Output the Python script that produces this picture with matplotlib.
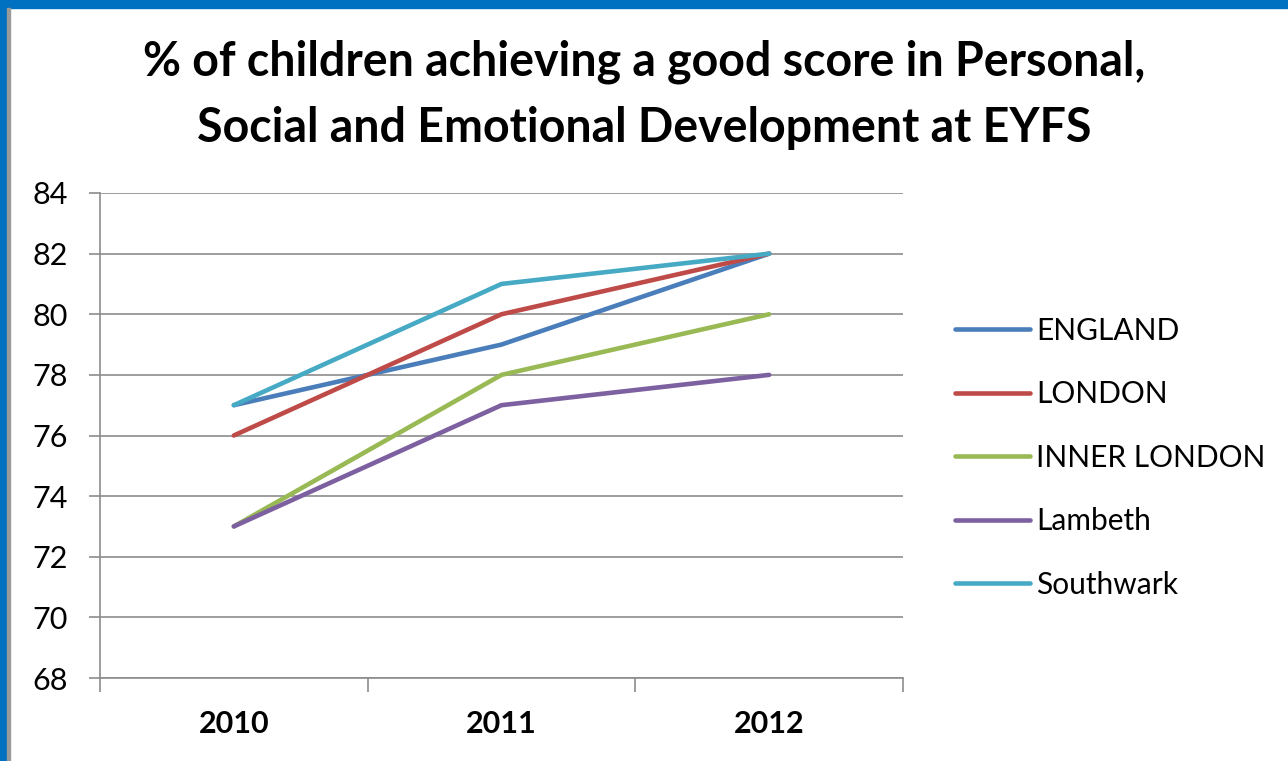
import numpy as np
import matplotlib.pyplot as plt
from matplotlib.patches import Rectangle

plt.rcParams['font.family'] = ['Lato', 'DejaVu Sans']

years = ['2010', '2011', '2012']
england = [77, 79, 82]
london = [76, 80, 82]
inner_london = [73, 78, 80]
lambeth = [73, 77, 78]
southwark = [77, 81, 82]

series = [
    ('ENGLAND', england, '#4A7EBB'),
    ('LONDON', london, '#BE4B48'),
    ('INNER LONDON', inner_london, '#98B954'),
    ('Lambeth', lambeth, '#7D60A0'),
    ('Southwark', southwark, '#46AAC5'),
]

fig = plt.figure(figsize=(12.88, 7.61), dpi=100)
ax = fig.add_axes([100 / 1288, 1 - 678 / 761, 803 / 1288, 485 / 761])

x = np.arange(len(years))
for name, vals, col in series:
    ax.plot(x, vals, color=col, lw=3.3, label=name, solid_capstyle='round')

ax.set_xlim(-0.5, 2.5)
ax.set_ylim(68, 84)
ax.set_yticks(range(68, 85, 2))
ax.yaxis.grid(True, color='#8c8c8c', lw=1.2)
ax.set_axisbelow(True)

ax.set_xticks(x)
ax.set_xticklabels(years, fontsize=22, fontweight='bold')
ax.set_xticks([-0.5, 0.5, 1.5, 2.5], minor=True)
ax.tick_params(axis='x', which='major', length=0, pad=23)
ax.tick_params(axis='x', which='minor', length=10, color='#8c8c8c', width=1.2)
ax.tick_params(axis='y', length=8, color='#8c8c8c', width=1.2, labelsize=22, pad=15)

for s in ['top', 'right']:
    ax.spines[s].set_visible(False)
for s in ['left', 'bottom']:
    ax.spines[s].set_color('#8c8c8c')
    ax.spines[s].set_linewidth(1.2)

ax.legend(loc='center left', bbox_to_anchor=(1.065, 0.454), frameon=False,
          fontsize=21.5, handlelength=2.5, handletextpad=0.2, labelspacing=1.19,
          borderaxespad=0, borderpad=0)

fig.text(0.5, 1 - 95 / 761,
         '% of children achieving a good score in Personal,\nSocial and Emotional Development at EYFS',
         ha='center', va='center', fontsize=33.5, fontweight='bold', linespacing=1.62)

# slide frame
fig.patches.append(Rectangle((0, 1 - 8 / 761), 1, 8 / 761, transform=fig.transFigure,
                             color='#0070C0', zorder=5))
fig.patches.append(Rectangle((0, 0), 7 / 1288, 1, transform=fig.transFigure,
                             color='#0070C0', zorder=5))
fig.patches.append(Rectangle((7 / 1288, 0), 3 / 1288, 1 - 8 / 761, transform=fig.transFigure,
                             color='#9a9a9a', zorder=5))

fig.savefig('out.png', dpi=100)
